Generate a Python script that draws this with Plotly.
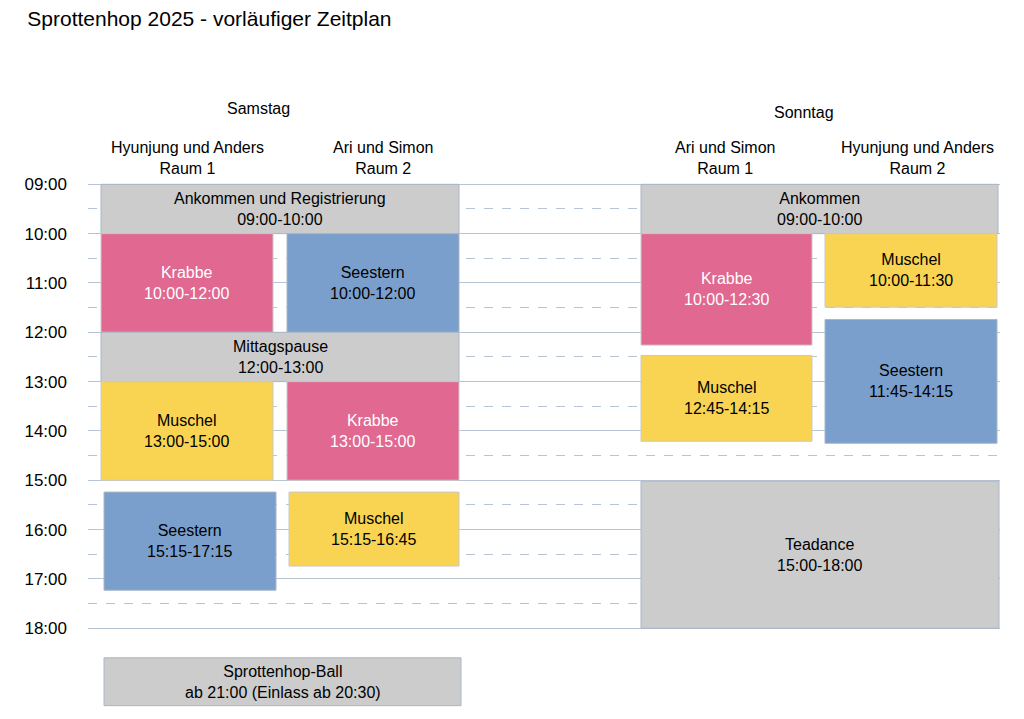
import plotly.graph_objects as go

title = "Sprottenhop 2025 - vorläufiger Zeitplan"
hours = [9, 10, 11, 12, 13, 14, 15, 16, 17, 18]
hour_labels = ["09:00", "10:00", "11:00", "12:00", "13:00", "14:00", "15:00", "16:00", "17:00", "18:00"]
half_hours = [9.5, 10.5, 11.5, 12.5, 13.5, 14.5, 15.5, 16.5, 17.5]

days = ["Samstag", "Sonntag"]
rooms = ["Hyunjung und Anders<br>Raum 1", "Ari und Simon<br>Raum 2",
         "Ari und Simon<br>Raum 1", "Hyunjung und Anders<br>Raum 2"]

ev_names = ["Ankommen und Registrierung", "Krabbe", "Seestern", "Mittagspause", "Muschel", "Krabbe",
            "Seestern", "Muschel", "Sprottenhop-Ball",
            "Ankommen", "Krabbe", "Muschel", "Muschel", "Seestern", "Teadance"]
ev_times = ["09:00-10:00", "10:00-12:00", "10:00-12:00", "12:00-13:00", "13:00-15:00", "13:00-15:00",
            "15:15-17:15", "15:15-16:45", "ab 21:00 (Einlass ab 20:30)",
            "09:00-10:00", "10:00-12:30", "10:00-11:30", "12:45-14:15", "11:45-14:15", "15:00-18:00"]
ev_start = [9, 10, 10, 12, 13, 13, 15.24, 15.24, 18.6, 9, 10, 10, 12.47, 11.74, 15.02]
ev_end = [10, 12, 12, 13, 15, 15, 17.23, 16.74, 19.57, 10, 12.26, 11.49, 14.21, 14.25, 18.0]
ev_x0 = [101, 101, 287, 101, 101, 287, 104, 289, 104, 641, 641, 825, 641, 825, 641]
ev_x1 = [459, 273, 459, 459, 273, 459, 276, 459, 461, 998, 812, 997, 812, 997, 999]
ev_kind = ["g", "k", "s", "g", "m", "k", "s", "m", "g", "g", "k", "m", "m", "s", "g"]

fill = {"g": "#cccccc", "k": "#e06891", "s": "#7b9fcc", "m": "#f8d452"}
line = {"g": "#a9b6c6", "k": "#c9c9c9", "s": "#a9b6c6", "m": "#c9c9c9"}
tcol = {"g": "#000000", "k": "#ffffff", "s": "#000000", "m": "#000000"}

fig = go.Figure()
fig.add_trace(go.Scatter(x=[None], y=[None], showlegend=False))
for n, t, y0, y1, x0, x1, k in zip(ev_names, ev_times, ev_start, ev_end, ev_x0, ev_x1, ev_kind):
    fig.add_shape(type="rect", x0=x0, x1=x1, y0=y0, y1=y1, xref="x", yref="y",
                  fillcolor=fill[k], line=dict(color=line[k], width=1), layer="above")
    fig.add_annotation(x=(x0 + x1) / 2, y=(y0 + y1) / 2, text=f"{n}<br>{t}", showarrow=False,
                       font=dict(size=16, color=tcol[k]))

fig.add_annotation(x=258, y=1.0636, yref="paper", text=days[0], showarrow=False, font=dict(size=16))
fig.add_annotation(x=804, y=1.0567, yref="paper", text=days[1], showarrow=False, font=dict(size=16))
for xc, r in zip([187, 383, 725, 917], rooms):
    fig.add_annotation(x=xc, y=8.46, text=r, showarrow=False, font=dict(size=16))

fig.update_layout(
    width=1016, height=711, plot_bgcolor="white", paper_bgcolor="white",
    margin=dict(l=80, r=24, t=127, b=2), showlegend=False,
    font=dict(family="Liberation Sans", color="black"),
    title=dict(text=title, x=0.019, xanchor="left", y=0.995, yanchor="top", font=dict(size=21)),
    xaxis=dict(range=[88, 1000], visible=False, fixedrange=True),
    yaxis=dict(range=[19.8, 8.0], tickvals=hours, ticktext=hour_labels, showgrid=True,
               gridcolor="#b7c4d4", gridwidth=1, zeroline=False, ticks="", ticklabelstandoff=20,
               tickfont=dict(size=17),
               minor=dict(tickvals=half_hours, showgrid=True, gridcolor="#b7c4d4", griddash="dash", ticks="")),
)
fig.write_html("out.html")
